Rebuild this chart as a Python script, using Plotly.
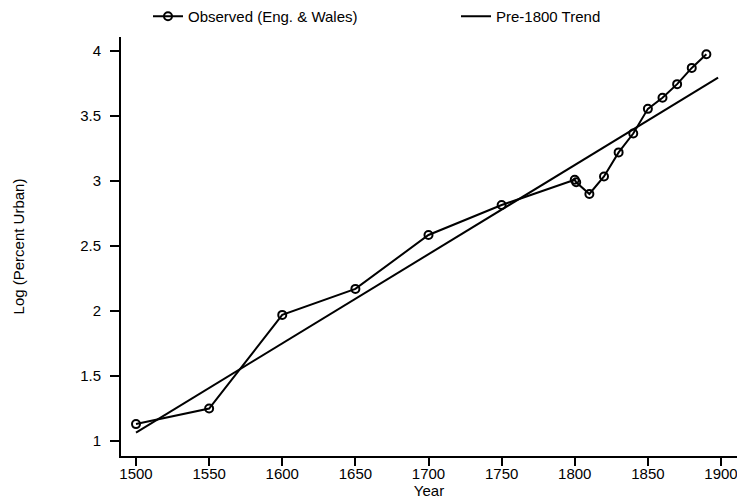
import plotly.graph_objects as go

# observed log(percent urban), England & Wales
obs_years = [1500, 1550, 1600, 1650, 1700, 1750, 1800, 1801, 1810, 1820, 1830, 1840, 1850, 1860, 1870, 1880, 1890]
obs_vals = [1.13, 1.25, 1.97, 2.17, 2.585, 2.815, 3.01, 2.99, 2.90, 3.035, 3.22, 3.365, 3.555, 3.64, 3.745, 3.87, 3.975]

# linear trend fitted on pre-1800 data
trend_years = [1500, 1898]
trend_vals = [1.065, 3.795]

x_ticks = [1500, 1550, 1600, 1650, 1700, 1750, 1800, 1850, 1900]
y_ticks = [1, 1.5, 2, 2.5, 3, 3.5, 4]

fnt = "Liberation Sans, Arial, sans-serif"

fig = go.Figure()
fig.add_trace(go.Scatter(
    x=obs_years, y=obs_vals, mode="lines+markers",
    name="Observed (Eng. & Wales)",
    line=dict(color="black", width=2),
    marker=dict(symbol="circle-open", size=8, color="black", line=dict(width=2)),
))
fig.add_trace(go.Scatter(
    x=trend_years, y=trend_vals, mode="lines",
    name="Pre-1800 Trend",
    line=dict(color="black", width=2),
))

fig.update_layout(
    width=737, height=502,
    margin=dict(l=121, r=0, t=37, b=46),
    paper_bgcolor="white", plot_bgcolor="white",
    font=dict(family=fnt, size=15, color="black"),
    showlegend=True,
    legend=dict(orientation="h", x=0.2008, xanchor="left", xref="container",
                y=1.0, yanchor="top", yref="container",
                font=dict(size=15), itemwidth=30, entrywidth=263,
                bgcolor="rgba(0,0,0,0)"),
    xaxis=dict(
        range=[1489.74, 1910.94], tickvals=x_ticks,
        showgrid=False, zeroline=False,
        showline=True, linecolor="black", linewidth=2,
        ticks="outside", ticklen=8, tickwidth=2, tickcolor="black",
        ticklabelstandoff=-5, ticklabeloverflow="allow",
        title=dict(text="Year", standoff=0, font=dict(size=15)),
    ),
    yaxis=dict(
        range=[0.8846, 4.1077], tickvals=y_ticks,
        showgrid=False, zeroline=False,
        showline=True, linecolor="black", linewidth=2,
        ticks="outside", ticklen=9, tickwidth=2, tickcolor="black",
        ticklabelstandoff=6,
        title=dict(text="Log (Percent Urban)", standoff=52, font=dict(size=15)),
    ),
)

fig.write_html("out.html", config={"displayModeBar": False},
               post_script="document.body.style.margin='0';")
